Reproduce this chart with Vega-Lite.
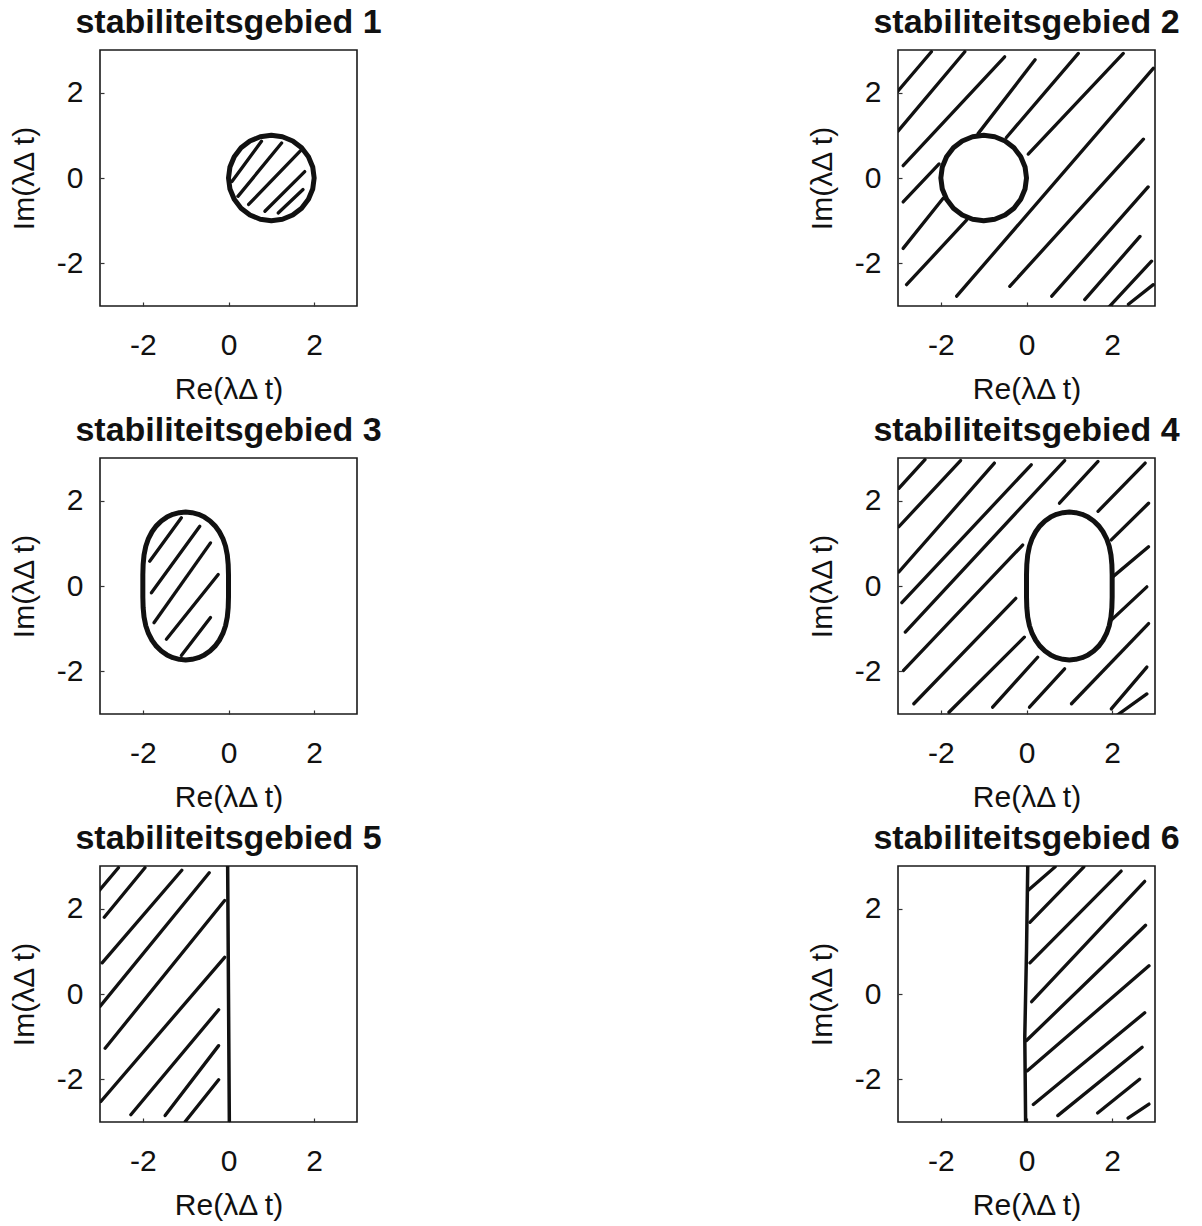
{
  "$schema": "https://vega.github.io/schema/vega-lite/v6.json",
  "background": "white",
  "padding": {"left": 8, "top": 5, "right": 5, "bottom": 0},
  "datasets": {
    "d": [
      {"p":1,"k":"h","x":0.08,"y":-0.08,"x2":0.77,"y2":0.86},
      {"p":1,"k":"h","x":0.22,"y":-0.43,"x2":1.24,"y2":0.82},
      {"p":1,"k":"h","x":0.47,"y":-0.62,"x2":1.70,"y2":0.66},
      {"p":1,"k":"h","x":0.85,"y":-0.78,"x2":1.78,"y2":0.15},
      {"p":1,"k":"h","x":1.16,"y":-0.82,"x2":1.74,"y2":-0.27},

      {"p":2,"k":"h","x":-3.04,"y":1.99,"x2":-2.22,"y2":2.96},
      {"p":2,"k":"h","x":-3.0,"y":1.10,"x2":-1.44,"y2":2.96},
      {"p":2,"k":"h","x":-2.88,"y":0.29,"x2":-0.51,"y2":2.84},
      {"p":2,"k":"h","x":-1.13,"y":1.04,"x2":0.20,"y2":2.77},
      {"p":2,"k":"h","x":-0.47,"y":0.95,"x2":1.21,"y2":2.92},
      {"p":2,"k":"h","x":0.04,"y":0.56,"x2":2.26,"y2":2.92},
      {"p":2,"k":"h","x":-2.88,"y":-0.56,"x2":-2.04,"y2":0.33},
      {"p":2,"k":"h","x":-2.88,"y":-1.65,"x2":-1.95,"y2":-0.48},
      {"p":2,"k":"h","x":-2.80,"y":-2.50,"x2":-1.40,"y2":-0.99},
      {"p":2,"k":"h","x":-1.63,"y":-2.77,"x2":2.96,"y2":2.57},
      {"p":2,"k":"h","x":-0.39,"y":-2.54,"x2":2.73,"y2":0.91},
      {"p":2,"k":"h","x":0.59,"y":-2.77,"x2":2.84,"y2":-0.21},
      {"p":2,"k":"h","x":1.36,"y":-2.85,"x2":2.65,"y2":-1.37},
      {"p":2,"k":"h","x":1.91,"y":-3.04,"x2":2.92,"y2":-1.95},
      {"p":2,"k":"h","x":2.38,"y":-2.96,"x2":2.96,"y2":-2.50},

      {"p":3,"k":"h","x":-1.84,"y":0.58,"x2":-1.10,"y2":1.60},
      {"p":3,"k":"h","x":-1.80,"y":-0.16,"x2":-0.67,"y2":1.40},
      {"p":3,"k":"h","x":-1.74,"y":-0.86,"x2":-0.42,"y2":1.01},
      {"p":3,"k":"h","x":-1.45,"y":-1.25,"x2":-0.24,"y2":0.27},
      {"p":3,"k":"h","x":-1.10,"y":-1.63,"x2":-0.42,"y2":-0.74},

      {"p":4,"k":"h","x":-2.98,"y":2.29,"x2":-2.37,"y2":2.96},
      {"p":4,"k":"h","x":-2.98,"y":1.39,"x2":-1.54,"y2":2.94},
      {"p":4,"k":"h","x":-2.98,"y":0.33,"x2":-0.75,"y2":2.88},
      {"p":4,"k":"h","x":-2.91,"y":-0.39,"x2":0.11,"y2":2.84},
      {"p":4,"k":"h","x":-2.83,"y":-1.08,"x2":0.89,"y2":2.94},
      {"p":4,"k":"h","x":0.77,"y":1.94,"x2":1.67,"y2":2.92},
      {"p":4,"k":"h","x":-2.87,"y":-1.98,"x2":-0.09,"y2":0.96},
      {"p":4,"k":"h","x":-2.63,"y":-2.76,"x2":-0.25,"y2":-0.29},
      {"p":4,"k":"h","x":-1.81,"y":-2.96,"x2":-0.05,"y2":-1.20},
      {"p":4,"k":"h","x":-0.79,"y":-2.84,"x2":0.26,"y2":-1.67},
      {"p":4,"k":"h","x":0.07,"y":-2.84,"x2":0.89,"y2":-1.94},
      {"p":4,"k":"h","x":1.05,"y":-2.76,"x2":2.85,"y2":-0.88},
      {"p":4,"k":"h","x":1.67,"y":1.75,"x2":2.77,"y2":2.88},
      {"p":4,"k":"h","x":1.98,"y":1.08,"x2":2.85,"y2":1.94},
      {"p":4,"k":"h","x":2.02,"y":0.22,"x2":2.85,"y2":0.92},
      {"p":4,"k":"h","x":1.98,"y":-0.80,"x2":2.81,"y2":-0.02},
      {"p":4,"k":"h","x":1.98,"y":-2.88,"x2":2.81,"y2":-1.90},
      {"p":4,"k":"h","x":2.10,"y":-3.04,"x2":2.81,"y2":-2.53},

      {"p":5,"k":"h","x":-3.08,"y":2.35,"x2":-2.57,"y2":2.96},
      {"p":5,"k":"h","x":-2.90,"y":1.80,"x2":-1.95,"y2":2.96},
      {"p":5,"k":"h","x":-2.95,"y":0.73,"x2":-1.09,"y2":2.90},
      {"p":5,"k":"h","x":-3.0,"y":-0.29,"x2":-0.45,"y2":2.84},
      {"p":5,"k":"h","x":-2.88,"y":-1.27,"x2":-0.09,"y2":2.19},
      {"p":5,"k":"h","x":-2.98,"y":-2.52,"x2":-0.09,"y2":0.86},
      {"p":5,"k":"h","x":-2.28,"y":-2.83,"x2":-0.23,"y2":-0.37},
      {"p":5,"k":"h","x":-1.48,"y":-2.85,"x2":-0.23,"y2":-1.21},
      {"p":5,"k":"h","x":-1.01,"y":-2.99,"x2":-0.23,"y2":-2.01},

      {"p":6,"k":"h","x":0.04,"y":2.43,"x2":0.67,"y2":2.98},
      {"p":6,"k":"h","x":0.08,"y":1.68,"x2":1.34,"y2":2.98},
      {"p":6,"k":"h","x":0.08,"y":0.73,"x2":2.21,"y2":2.88},
      {"p":6,"k":"h","x":0.12,"y":-0.18,"x2":2.76,"y2":2.64},
      {"p":6,"k":"h","x":0.0,"y":-1.09,"x2":2.78,"y2":1.61},
      {"p":6,"k":"h","x":0.02,"y":-1.80,"x2":2.86,"y2":0.66},
      {"p":6,"k":"h","x":0.16,"y":-2.59,"x2":2.76,"y2":-0.44},
      {"p":6,"k":"h","x":0.73,"y":-2.85,"x2":2.70,"y2":-1.25},
      {"p":6,"k":"h","x":1.66,"y":-2.79,"x2":2.64,"y2":-2.0},
      {"p":6,"k":"h","x":2.37,"y":-2.91,"x2":2.86,"y2":-2.58},

      {"p":1,"k":"b","i":0,"x":2,"y":0},{"p":1,"k":"b","i":1,"x":1.966,"y":0.259},{"p":1,"k":"b","i":2,"x":1.866,"y":0.5},{"p":1,"k":"b","i":3,"x":1.707,"y":0.707},{"p":1,"k":"b","i":4,"x":1.5,"y":0.866},{"p":1,"k":"b","i":5,"x":1.259,"y":0.966},{"p":1,"k":"b","i":6,"x":1,"y":1},{"p":1,"k":"b","i":7,"x":0.741,"y":0.966},{"p":1,"k":"b","i":8,"x":0.5,"y":0.866},{"p":1,"k":"b","i":9,"x":0.293,"y":0.707},{"p":1,"k":"b","i":10,"x":0.134,"y":0.5},{"p":1,"k":"b","i":11,"x":0.034,"y":0.259},{"p":1,"k":"b","i":12,"x":0,"y":0},{"p":1,"k":"b","i":13,"x":0.034,"y":-0.259},{"p":1,"k":"b","i":14,"x":0.134,"y":-0.5},{"p":1,"k":"b","i":15,"x":0.293,"y":-0.707},{"p":1,"k":"b","i":16,"x":0.5,"y":-0.866},{"p":1,"k":"b","i":17,"x":0.741,"y":-0.966},{"p":1,"k":"b","i":18,"x":1,"y":-1},{"p":1,"k":"b","i":19,"x":1.259,"y":-0.966},{"p":1,"k":"b","i":20,"x":1.5,"y":-0.866},{"p":1,"k":"b","i":21,"x":1.707,"y":-0.707},{"p":1,"k":"b","i":22,"x":1.866,"y":-0.5},{"p":1,"k":"b","i":23,"x":1.966,"y":-0.259},{"p":1,"k":"b","i":24,"x":2,"y":0},{"p":1,"k":"b","i":25,"x":1.966,"y":0.259},

      {"p":2,"k":"b","i":0,"x":0,"y":0},{"p":2,"k":"b","i":1,"x":-0.034,"y":0.259},{"p":2,"k":"b","i":2,"x":-0.134,"y":0.5},{"p":2,"k":"b","i":3,"x":-0.293,"y":0.707},{"p":2,"k":"b","i":4,"x":-0.5,"y":0.866},{"p":2,"k":"b","i":5,"x":-0.741,"y":0.966},{"p":2,"k":"b","i":6,"x":-1,"y":1},{"p":2,"k":"b","i":7,"x":-1.259,"y":0.966},{"p":2,"k":"b","i":8,"x":-1.5,"y":0.866},{"p":2,"k":"b","i":9,"x":-1.707,"y":0.707},{"p":2,"k":"b","i":10,"x":-1.866,"y":0.5},{"p":2,"k":"b","i":11,"x":-1.966,"y":0.259},{"p":2,"k":"b","i":12,"x":-2,"y":0},{"p":2,"k":"b","i":13,"x":-1.966,"y":-0.259},{"p":2,"k":"b","i":14,"x":-1.866,"y":-0.5},{"p":2,"k":"b","i":15,"x":-1.707,"y":-0.707},{"p":2,"k":"b","i":16,"x":-1.5,"y":-0.866},{"p":2,"k":"b","i":17,"x":-1.259,"y":-0.966},{"p":2,"k":"b","i":18,"x":-1,"y":-1},{"p":2,"k":"b","i":19,"x":-0.741,"y":-0.966},{"p":2,"k":"b","i":20,"x":-0.5,"y":-0.866},{"p":2,"k":"b","i":21,"x":-0.293,"y":-0.707},{"p":2,"k":"b","i":22,"x":-0.134,"y":-0.5},{"p":2,"k":"b","i":23,"x":-0.034,"y":-0.259},{"p":2,"k":"b","i":24,"x":0,"y":0},{"p":2,"k":"b","i":25,"x":-0.034,"y":0.259},

      {"p":3,"k":"b","i":0,"x":-1,"y":1.732},{"p":3,"k":"b","i":1,"x":-0.85,"y":1.719},{"p":3,"k":"b","i":2,"x":-0.702,"y":1.68},{"p":3,"k":"b","i":3,"x":-0.562,"y":1.615},{"p":3,"k":"b","i":4,"x":-0.431,"y":1.524},{"p":3,"k":"b","i":5,"x":-0.315,"y":1.41},{"p":3,"k":"b","i":6,"x":-0.214,"y":1.272},{"p":3,"k":"b","i":7,"x":-0.131,"y":1.112},{"p":3,"k":"b","i":8,"x":-0.069,"y":0.931},{"p":3,"k":"b","i":9,"x":-0.028,"y":0.728},{"p":3,"k":"b","i":10,"x":-0.007,"y":0.503},{"p":3,"k":"b","i":11,"x":0,"y":0.259},{"p":3,"k":"b","i":12,"x":0,"y":0},{"p":3,"k":"b","i":13,"x":0,"y":-0.259},{"p":3,"k":"b","i":14,"x":-0.007,"y":-0.503},{"p":3,"k":"b","i":15,"x":-0.028,"y":-0.728},{"p":3,"k":"b","i":16,"x":-0.069,"y":-0.931},{"p":3,"k":"b","i":17,"x":-0.131,"y":-1.112},{"p":3,"k":"b","i":18,"x":-0.214,"y":-1.272},{"p":3,"k":"b","i":19,"x":-0.315,"y":-1.41},{"p":3,"k":"b","i":20,"x":-0.431,"y":-1.524},{"p":3,"k":"b","i":21,"x":-0.562,"y":-1.615},{"p":3,"k":"b","i":22,"x":-0.702,"y":-1.68},{"p":3,"k":"b","i":23,"x":-0.85,"y":-1.719},{"p":3,"k":"b","i":24,"x":-1,"y":-1.732},{"p":3,"k":"b","i":25,"x":-1.15,"y":-1.719},{"p":3,"k":"b","i":26,"x":-1.298,"y":-1.68},{"p":3,"k":"b","i":27,"x":-1.438,"y":-1.615},{"p":3,"k":"b","i":28,"x":-1.569,"y":-1.524},{"p":3,"k":"b","i":29,"x":-1.685,"y":-1.41},{"p":3,"k":"b","i":30,"x":-1.786,"y":-1.272},{"p":3,"k":"b","i":31,"x":-1.869,"y":-1.112},{"p":3,"k":"b","i":32,"x":-1.931,"y":-0.931},{"p":3,"k":"b","i":33,"x":-1.972,"y":-0.728},{"p":3,"k":"b","i":34,"x":-1.993,"y":-0.503},{"p":3,"k":"b","i":35,"x":-2,"y":-0.259},{"p":3,"k":"b","i":36,"x":-2,"y":0},{"p":3,"k":"b","i":37,"x":-2,"y":0.259},{"p":3,"k":"b","i":38,"x":-1.993,"y":0.503},{"p":3,"k":"b","i":39,"x":-1.972,"y":0.728},{"p":3,"k":"b","i":40,"x":-1.931,"y":0.931},{"p":3,"k":"b","i":41,"x":-1.869,"y":1.112},{"p":3,"k":"b","i":42,"x":-1.786,"y":1.272},{"p":3,"k":"b","i":43,"x":-1.685,"y":1.41},{"p":3,"k":"b","i":44,"x":-1.569,"y":1.524},{"p":3,"k":"b","i":45,"x":-1.438,"y":1.615},{"p":3,"k":"b","i":46,"x":-1.298,"y":1.68},{"p":3,"k":"b","i":47,"x":-1.15,"y":1.719},{"p":3,"k":"b","i":48,"x":-1,"y":1.732},{"p":3,"k":"b","i":49,"x":-0.85,"y":1.719},

      {"p":4,"k":"b","i":0,"x":1,"y":1.732},{"p":4,"k":"b","i":1,"x":0.85,"y":1.719},{"p":4,"k":"b","i":2,"x":0.702,"y":1.68},{"p":4,"k":"b","i":3,"x":0.562,"y":1.615},{"p":4,"k":"b","i":4,"x":0.431,"y":1.524},{"p":4,"k":"b","i":5,"x":0.315,"y":1.41},{"p":4,"k":"b","i":6,"x":0.214,"y":1.272},{"p":4,"k":"b","i":7,"x":0.131,"y":1.112},{"p":4,"k":"b","i":8,"x":0.069,"y":0.931},{"p":4,"k":"b","i":9,"x":0.028,"y":0.728},{"p":4,"k":"b","i":10,"x":0.007,"y":0.503},{"p":4,"k":"b","i":11,"x":0,"y":0.259},{"p":4,"k":"b","i":12,"x":0,"y":0},{"p":4,"k":"b","i":13,"x":0,"y":-0.259},{"p":4,"k":"b","i":14,"x":0.007,"y":-0.503},{"p":4,"k":"b","i":15,"x":0.028,"y":-0.728},{"p":4,"k":"b","i":16,"x":0.069,"y":-0.931},{"p":4,"k":"b","i":17,"x":0.131,"y":-1.112},{"p":4,"k":"b","i":18,"x":0.214,"y":-1.272},{"p":4,"k":"b","i":19,"x":0.315,"y":-1.41},{"p":4,"k":"b","i":20,"x":0.431,"y":-1.524},{"p":4,"k":"b","i":21,"x":0.562,"y":-1.615},{"p":4,"k":"b","i":22,"x":0.702,"y":-1.68},{"p":4,"k":"b","i":23,"x":0.85,"y":-1.719},{"p":4,"k":"b","i":24,"x":1,"y":-1.732},{"p":4,"k":"b","i":25,"x":1.15,"y":-1.719},{"p":4,"k":"b","i":26,"x":1.298,"y":-1.68},{"p":4,"k":"b","i":27,"x":1.438,"y":-1.615},{"p":4,"k":"b","i":28,"x":1.569,"y":-1.524},{"p":4,"k":"b","i":29,"x":1.685,"y":-1.41},{"p":4,"k":"b","i":30,"x":1.786,"y":-1.272},{"p":4,"k":"b","i":31,"x":1.869,"y":-1.112},{"p":4,"k":"b","i":32,"x":1.931,"y":-0.931},{"p":4,"k":"b","i":33,"x":1.972,"y":-0.728},{"p":4,"k":"b","i":34,"x":1.993,"y":-0.503},{"p":4,"k":"b","i":35,"x":2,"y":-0.259},{"p":4,"k":"b","i":36,"x":2,"y":0},{"p":4,"k":"b","i":37,"x":2,"y":0.259},{"p":4,"k":"b","i":38,"x":1.993,"y":0.503},{"p":4,"k":"b","i":39,"x":1.972,"y":0.728},{"p":4,"k":"b","i":40,"x":1.931,"y":0.931},{"p":4,"k":"b","i":41,"x":1.869,"y":1.112},{"p":4,"k":"b","i":42,"x":1.786,"y":1.272},{"p":4,"k":"b","i":43,"x":1.685,"y":1.41},{"p":4,"k":"b","i":44,"x":1.569,"y":1.524},{"p":4,"k":"b","i":45,"x":1.438,"y":1.615},{"p":4,"k":"b","i":46,"x":1.298,"y":1.68},{"p":4,"k":"b","i":47,"x":1.15,"y":1.719},{"p":4,"k":"b","i":48,"x":1,"y":1.732},{"p":4,"k":"b","i":49,"x":0.85,"y":1.719},

      {"p":5,"k":"v","i":0,"x":0.02,"y":-3.05},{"p":5,"k":"v","i":1,"x":0.0,"y":0},{"p":5,"k":"v","i":2,"x":-0.02,"y":3.05},
      {"p":6,"k":"v","i":0,"x":-0.02,"y":-3.05},{"p":6,"k":"v","i":1,"x":-0.04,"y":-1},{"p":6,"k":"v","i":2,"x":0.0,"y":1},{"p":6,"k":"v","i":3,"x":0.03,"y":3.05}
    ]
  },
  "data": {"name": "d"},
  "facet": {
    "field": "p",
    "type": "ordinal",
    "header": {
      "title": null,
      "labelExpr": "'stabiliteitsgebied ' + datum.value",
      "labelFont": "Liberation Sans",
      "labelFontSize": 34,
      "labelFontWeight": "bold",
      "labelColor": "#111",
      "labelPadding": 10
    }
  },
  "columns": 2,
  "spacing": {"column": 423, "row": 8},
  "resolve": {"axis": {"x": "independent", "y": "independent"}},
  "spec": {
    "width": 257,
    "height": 256,
    "encoding": {
      "x": {
        "field": "x", "type": "quantitative",
        "scale": {"domain": [-3, 3], "nice": false, "zero": false},
        "axis": {"title": "Re(λΔ t)", "values": [-2, 0, 2], "labelExpr": "datum.value < 0 ? '-' + (-datum.value) : '' + datum.value", "labelPadding": 28, "titlePadding": 14}
      },
      "y": {
        "field": "y", "type": "quantitative",
        "scale": {"domain": [-3, 3], "nice": false, "zero": false},
        "axis": {"title": "Im(λΔ t)", "values": [-2, 0, 2], "labelExpr": "datum.value < 0 ? '-' + (-datum.value) : '' + datum.value", "labelPadding": 21, "titlePadding": 17}
      }
    },
    "layer": [
      {
        "transform": [{"filter": "datum.k == 'h'"}],
        "mark": {"type": "rule", "strokeWidth": 3.3, "strokeCap": "round", "color": "#111", "clip": true},
        "encoding": {"x2": {"field": "x2"}, "y2": {"field": "y2"}}
      },
      {
        "transform": [{"filter": "datum.k == 'b'"}],
        "mark": {"type": "line", "strokeWidth": 5, "strokeJoin": "round", "strokeCap": "round", "color": "#111", "clip": true},
        "encoding": {"order": {"field": "i", "type": "quantitative"}}
      },
      {
        "transform": [{"filter": "datum.k == 'v'"}],
        "mark": {"type": "line", "strokeWidth": 3.5, "strokeJoin": "round", "color": "#111", "clip": true},
        "encoding": {"order": {"field": "i", "type": "quantitative"}}
      }
    ]
  },
  "config": {
    "font": "Liberation Sans",
    "view": {"stroke": "#1a1a1a", "strokeWidth": 1.6},
    "axis": {
      "domain": false, "grid": false,
      "ticks": true, "tickSize": -4, "tickWidth": 1.2, "tickColor": "#333",
      "labelFont": "Liberation Sans", "labelFontSize": 30, "labelColor": "#111",
      "titleFont": "Liberation Sans", "titleFontSize": 30, "titleFontWeight": "normal", "titleColor": "#111"
    }
  }
}
